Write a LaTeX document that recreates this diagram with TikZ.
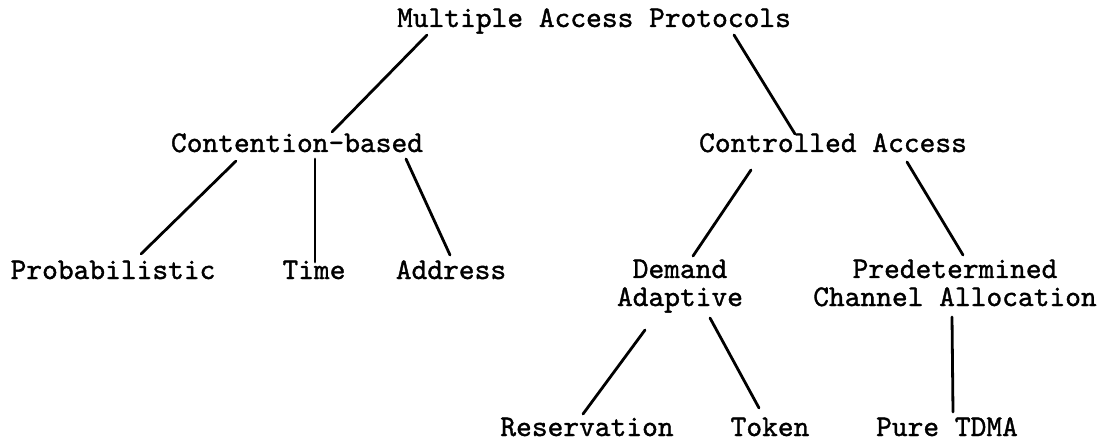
\documentclass[tikz,border=0pt]{standalone}
\usepackage{fontspec}
\newfontfamily\typew{lmmono10-regular.otf}[FakeBold=1.2]
\usepackage{tikz}
\usetikzlibrary{calc}

\begin{document}
\begin{tikzpicture}[line cap=round,line join=round,x=0.5pt,y=-0.5pt,
  lbl/.style={font=\typew\fontsize{15}{14}\selectfont,anchor=base,inner sep=0pt,align=center},
  lnk/.style={line width=1.4pt}]
\useasboundingbox (0,0) rectangle (1102,443);
\node [lbl] (map) at (594,27) {Multiple Access Protocols};
\node [lbl] (cb) at (297,152) {Contention-based};
\node [lbl] (ca) at (833,152) {Controlled Access};
\node [lbl] (prob) at (113,279) {Probabilistic};
\node [lbl] (time) at (314,279) {Time};
\node [lbl] (addr) at (451,279) {Address};
\node [lbl] (da) at (680,306) {Demand\\Adaptive};
\node [lbl] (pca) at (955,306) {Predetermined\\Channel Allocation};
\node [lbl] (res) at (587,436) {Reservation};
\node [lbl] (tok) at (770,436) {Token};
\node [lbl] (tdma) at (947,436) {Pure TDMA};
\draw [lnk] ($(map.base)+(-167,8)$) -- ($(cb.base)+(35,-20)$);
\draw [lnk] ($(map.base)+(140,8)$) -- ($(ca.base)+(-38,-18)$);
\draw [lnk] ($(cb.base)+(-61,9)$) -- ($(prob.base)+(28,-25)$);
\draw [lnk] ($(cb.base)+(18,7)$) -- ($(time.base)+(1,-17)$);
\draw [lnk] ($(cb.base)+(109,7)$) -- ($(addr.base)+(-1,-24)$);
\draw [lnk] ($(ca.base)+(-82,18)$) -- ($(da.base)+(13,-50)$);
\draw [lnk] ($(ca.base)+(74,10)$) -- ($(pca.base)+(8,-51)$);
\draw [lnk] ($(da.base)+(-35,24)$) -- ($(res.base)+(-4,-22)$);
\draw [lnk] ($(da.base)+(30,12)$) -- ($(tok.base)+(-11,-28)$);
\draw [lnk] ($(pca.base)+(-3,11)$) -- ($(tdma.base)+(6,-24)$);
\end{tikzpicture}
\end{document}
